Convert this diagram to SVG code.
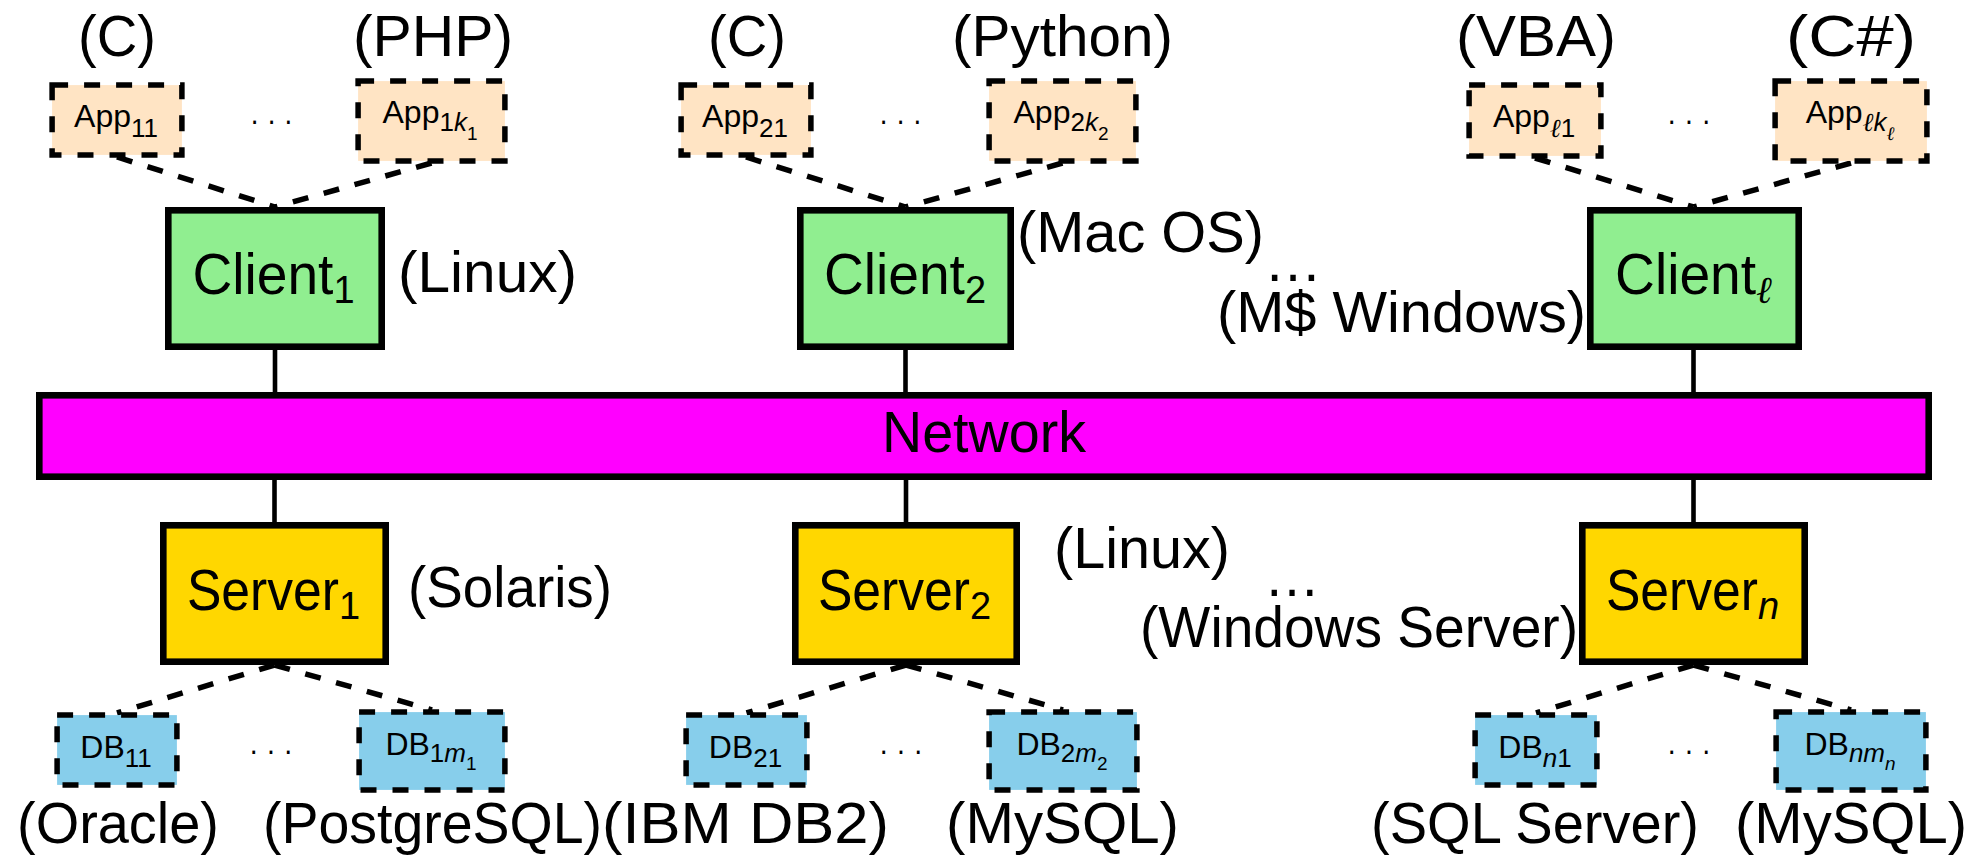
<svg xmlns="http://www.w3.org/2000/svg" width="1987" height="858" viewBox="0 0 1987 858">
<style>
text{font-family:"Liberation Sans",Arial,sans-serif;fill:#000}
.lbl{font-size:58px}
.sm{font-size:32px}
.sub{font-size:26px}
.ss{font-size:19px}
.bsub{font-size:38px}
.it{font-style:italic}
.ell{font-family:"DejaVu Serif",serif;font-style:italic}
.app{fill:#FFE4C4;stroke:#000;stroke-width:5.5;stroke-dasharray:16 16}
.db{fill:#87CEEB;stroke:#000;stroke-width:5.5;stroke-dasharray:16 16}
.client{fill:#90EE90;stroke:#000;stroke-width:6.6}
.server{fill:#FFD700;stroke:#000;stroke-width:6.6}
.net{fill:#FF00FF;stroke:#000;stroke-width:6.6}
.link{stroke:#000;stroke-width:4.6;fill:none}
.dlink{stroke:#000;stroke-width:5.5;fill:none;stroke-dasharray:16 16}
</style>
<rect width="1987" height="858" fill="#fff"/>
<g id="connectors">
<line class="dlink" x1="117" y1="157" x2="275" y2="207"/>
<line class="dlink" x1="431.5" y1="163" x2="275" y2="207"/>
<line class="dlink" x1="746" y1="157" x2="905.5" y2="207"/>
<line class="dlink" x1="1062.5" y1="163" x2="905.5" y2="207"/>
<line class="dlink" x1="1535" y1="158" x2="1693.5" y2="207"/>
<line class="dlink" x1="1851" y1="163" x2="1693.5" y2="207"/>
<line class="link" x1="275" y1="350" x2="275" y2="392"/>
<line class="link" x1="905.5" y1="350" x2="905.5" y2="392"/>
<line class="link" x1="1693.5" y1="350" x2="1693.5" y2="392"/>
<line class="link" x1="274.5" y1="480" x2="274.5" y2="522"/>
<line class="link" x1="906" y1="480" x2="906" y2="522"/>
<line class="link" x1="1693.5" y1="480" x2="1693.5" y2="522"/>
<line class="dlink" x1="274.5" y1="665" x2="117" y2="713"/>
<line class="dlink" x1="274.5" y1="665" x2="432" y2="710"/>
<line class="dlink" x1="906" y1="665" x2="746.5" y2="713"/>
<line class="dlink" x1="906" y1="665" x2="1063" y2="710"/>
<line class="dlink" x1="1693.5" y1="665" x2="1536" y2="713"/>
<line class="dlink" x1="1693.5" y1="665" x2="1851" y2="710"/>
</g>
<g id="app11"><rect class="app" x="52.1" y="85.1" width="129.8" height="69.8"/><text class="sm" x="116" y="127" text-anchor="middle">App<tspan class="sub" dy="10">11</tspan></text><text class="lbl" x="78" y="56" textLength="78" lengthAdjust="spacingAndGlyphs">(C)</text></g>
<g id="app1k1"><rect class="app" x="358.1" y="81.1" width="146.8" height="79.8"/><text class="sm" x="430" y="123" text-anchor="middle">App<tspan class="sub" dy="8">1</tspan><tspan class="sub it">k</tspan><tspan class="ss" dy="9">1</tspan></text><text class="lbl" x="353" y="56" textLength="160" lengthAdjust="spacingAndGlyphs">(PHP)</text></g>
<text class="sm" x="250" y="130.5" textLength="43" lengthAdjust="spacingAndGlyphs">· · ·</text>
<g id="app21"><rect class="app" x="681.1" y="85.1" width="129.8" height="69.8"/><text class="sm" x="745" y="127" text-anchor="middle">App<tspan class="sub" dy="10">21</tspan></text><text class="lbl" x="708" y="56" textLength="78" lengthAdjust="spacingAndGlyphs">(C)</text></g>
<g id="app2k2"><rect class="app" x="989.1" y="81.1" width="146.8" height="79.8"/><text class="sm" x="1061" y="123" text-anchor="middle">App<tspan class="sub" dy="8">2</tspan><tspan class="sub it">k</tspan><tspan class="ss" dy="9">2</tspan></text><text class="lbl" x="952" y="56" textLength="221" lengthAdjust="spacingAndGlyphs">(Python)</text></g>
<text class="sm" x="879" y="130.5" textLength="43" lengthAdjust="spacingAndGlyphs">· · ·</text>
<g id="appl1"><rect class="app" x="1469.1" y="85.1" width="131.8" height="70.8"/><text class="sm" x="1534" y="127" text-anchor="middle">App<tspan class="sub ell" dy="10">ℓ</tspan><tspan class="sub">1</tspan></text><text class="lbl" x="1456" y="56" textLength="160" lengthAdjust="spacingAndGlyphs">(VBA)</text></g>
<g id="applkl"><rect class="app" x="1775.1" y="81.1" width="151.8" height="79.8"/><text class="sm" x="1850" y="123" text-anchor="middle">App<tspan class="sub ell" dy="8">ℓ</tspan><tspan class="sub it">k</tspan><tspan class="ss ell" dy="9">ℓ</tspan></text><text class="lbl" x="1786" y="56" textLength="130" lengthAdjust="spacingAndGlyphs">(C#)</text></g>
<text class="sm" x="1667" y="130.5" textLength="44" lengthAdjust="spacingAndGlyphs">· · ·</text>
<g id="client1"><rect class="client" x="168.3" y="210.3" width="213.4" height="136.4"/><text class="lbl" x="273.5" y="294" text-anchor="middle"><tspan textLength="141" lengthAdjust="spacingAndGlyphs">Client</tspan><tspan class="bsub" dy="9">1</tspan></text><text class="lbl" x="398" y="292" textLength="179" lengthAdjust="spacingAndGlyphs">(Linux)</text></g>
<g id="client2"><rect class="client" x="800.3" y="210.3" width="210.4" height="136.4"/><text class="lbl" x="905" y="294" text-anchor="middle"><tspan textLength="141" lengthAdjust="spacingAndGlyphs">Client</tspan><tspan class="bsub" dy="9">2</tspan></text><text class="lbl" x="1017" y="252" textLength="247" lengthAdjust="spacingAndGlyphs">(Mac OS)</text></g>
<text class="lbl" x="1264" y="281" textLength="58" lengthAdjust="spacingAndGlyphs">…</text>
<g id="clientl"><rect class="client" x="1590.3" y="210.3" width="208.4" height="136.4"/><text class="lbl" x="1693.5" y="294" text-anchor="middle"><tspan textLength="141" lengthAdjust="spacingAndGlyphs">Client</tspan><tspan class="bsub ell" dy="9">ℓ</tspan></text><text class="lbl" x="1217" y="332" textLength="369" lengthAdjust="spacingAndGlyphs">(M$ Windows)</text></g>
<g id="network"><rect class="net" x="39.3" y="395.3" width="1889.4" height="81.4"/><text class="lbl" x="984" y="452" text-anchor="middle" textLength="204" lengthAdjust="spacingAndGlyphs">Network</text></g>
<g id="server1"><rect class="server" x="163.3" y="525.3" width="222.4" height="136.4"/><text class="lbl" x="273.5" y="610" text-anchor="middle"><tspan textLength="152" lengthAdjust="spacingAndGlyphs">Server</tspan><tspan class="bsub" dy="9">1</tspan></text><text class="lbl" x="408" y="607" textLength="204" lengthAdjust="spacingAndGlyphs">(Solaris)</text></g>
<g id="server2"><rect class="server" x="795.3" y="525.3" width="221.4" height="136.4"/><text class="lbl" x="904.5" y="610" text-anchor="middle"><tspan textLength="152" lengthAdjust="spacingAndGlyphs">Server</tspan><tspan class="bsub" dy="9">2</tspan></text><text class="lbl" x="1054" y="568" textLength="176" lengthAdjust="spacingAndGlyphs">(Linux)</text></g>
<text class="lbl" x="1264" y="596" textLength="56" lengthAdjust="spacingAndGlyphs">…</text>
<g id="servern"><rect class="server" x="1582.3" y="525.3" width="222.4" height="136.4"/><text class="lbl" x="1692.5" y="610" text-anchor="middle"><tspan textLength="152" lengthAdjust="spacingAndGlyphs">Server</tspan><tspan class="bsub it" dy="9">n</tspan></text><text class="lbl" x="1140" y="647" textLength="438" lengthAdjust="spacingAndGlyphs">(Windows Server)</text></g>
<g id="db11"><rect class="db" x="57.1" y="715.1" width="119.8" height="69.8"/><text class="sm" x="116" y="758" text-anchor="middle">DB<tspan class="sub" dy="9">11</tspan></text><text class="lbl" x="17" y="843" textLength="202" lengthAdjust="spacingAndGlyphs">(Oracle)</text></g>
<g id="db1m1"><rect class="db" x="359.1" y="712.1" width="145.8" height="77.8"/><text class="sm" x="431" y="755" text-anchor="middle">DB<tspan class="sub" dy="7">1</tspan><tspan class="sub it">m</tspan><tspan class="ss" dy="8">1</tspan></text><text class="lbl" x="263" y="843" textLength="339" lengthAdjust="spacingAndGlyphs">(PostgreSQL)</text></g>
<text class="sm" x="249" y="760.5" textLength="44" lengthAdjust="spacingAndGlyphs">· · ·</text>
<g id="db21"><rect class="db" x="686.1" y="715.1" width="120.8" height="69.8"/><text class="sm" x="745.5" y="758" text-anchor="middle">DB<tspan class="sub" dy="9">21</tspan></text><text class="lbl" x="602" y="843" textLength="287" lengthAdjust="spacingAndGlyphs">(IBM DB2)</text></g>
<g id="db2m2"><rect class="db" x="989.1" y="712.1" width="147.8" height="77.8"/><text class="sm" x="1062" y="755" text-anchor="middle">DB<tspan class="sub" dy="7">2</tspan><tspan class="sub it">m</tspan><tspan class="ss" dy="8">2</tspan></text><text class="lbl" x="946" y="843" textLength="233" lengthAdjust="spacingAndGlyphs">(MySQL)</text></g>
<text class="sm" x="879" y="760.5" textLength="44" lengthAdjust="spacingAndGlyphs">· · ·</text>
<g id="dbn1"><rect class="db" x="1475.1" y="715.1" width="121.8" height="69.8"/><text class="sm" x="1535" y="758" text-anchor="middle">DB<tspan class="sub it" dy="9">n</tspan><tspan class="sub">1</tspan></text><text class="lbl" x="1371" y="843" textLength="328" lengthAdjust="spacingAndGlyphs">(SQL Server)</text></g>
<g id="dbnmn"><rect class="db" x="1776.1" y="712.1" width="149.8" height="77.8"/><text class="sm" x="1850" y="755" text-anchor="middle">DB<tspan class="sub it" dy="7">nm</tspan><tspan class="ss it" dy="8">n</tspan></text><text class="lbl" x="1735" y="843" textLength="232" lengthAdjust="spacingAndGlyphs">(MySQL)</text></g>
<text class="sm" x="1667" y="760.5" textLength="44" lengthAdjust="spacingAndGlyphs">· · ·</text>
</svg>
